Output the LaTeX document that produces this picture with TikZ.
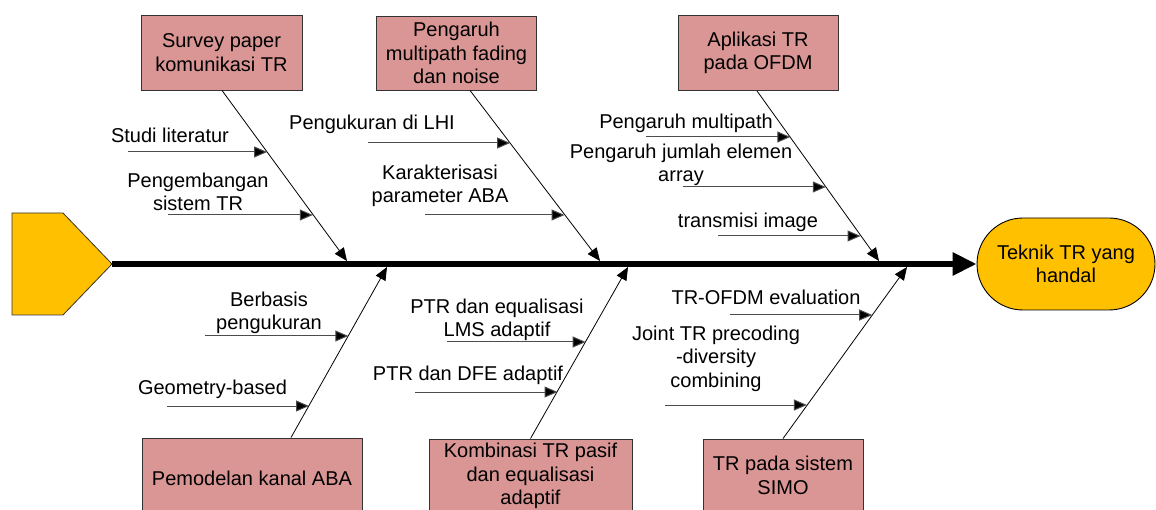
\documentclass[tikz,border=0pt]{standalone}
\usepackage{fontspec}
\setmainfont{Liberation Sans}
\usetikzlibrary{arrows.meta}
\definecolor{boxpink}{HTML}{D99694}
\definecolor{headyellow}{HTML}{FFC000}
\begin{document}
\begin{tikzpicture}[x=1pt,y=-1pt,
  every node/.style={font=\fontsize{20}{23.5}\selectfont},
  cause/.style={draw=black!80, line width=0.9pt, fill=boxpink, align=center, inner sep=2pt},
  goalnode/.style={draw=black, line width=0.9pt, fill=headyellow, align=center, rounded corners=46pt, minimum width=178pt, minimum height=92pt, inner sep=2pt},
  lbl/.style={align=center, inner sep=0pt, anchor=base},
  bone/.style={draw=black, line width=0.8pt, -{Triangle[length=13pt,width=11pt]}},
  sub/.style={draw=black!70, line width=1pt, -{Triangle[length=13pt,width=11pt, fill=black]}},
  spine/.style={draw=black, line width=6pt, -{Triangle[length=24pt,width=22pt]}}
]
\useasboundingbox (0,0) rectangle (1156,510);
\clip (0,0) rectangle (1156,510);

% head
\draw[fill=headyellow, draw=black!80, line width=0.8pt] (12,213) -- (63,213) -- (112,264) -- (63,315) -- (12,315) -- cycle;
\coordinate (head) at (112,264);

% goal
\node[goalnode] (goal) at (1066,264) {Teknik TR yang\\handal};

% spine
\draw[spine] (head) -- (goal.west);

% cause boxes
\node[cause, minimum width=161pt, minimum height=75pt] (b1) at (221.5,52.5) {Survey paper\\komunikasi TR};
\node[cause, minimum width=160pt, minimum height=74pt] (b2) at (456.5,53) {Pengaruh\\multipath fading\\dan noise};
\node[cause, minimum width=160pt, minimum height=75pt] (b3) at (758,53) {Aplikasi TR\\pada OFDM};
\node[cause, minimum width=220pt, minimum height=80pt] (b4) at (252,478) {Pemodelan kanal ABA};
\node[cause, minimum width=203pt, minimum height=74pt] (b5) at (530.5,476) {Kombinasi TR pasif\\dan equalisasi\\adaptif};
\node[cause, minimum width=160pt, minimum height=73pt] (b6) at (783,475.5) {TR pada sistem\\SIMO};

% bone ends on spine
\coordinate (j1) at (347,261);
\coordinate (j2) at (600,261);
\coordinate (j3) at (879,261);
\coordinate (j4) at (387,267);
\coordinate (j5) at (628,267);
\coordinate (j6) at (907,267);

\draw[bone] ([xshift=0.5pt]b1.south) -- (j1);
\draw[bone] ([xshift=13.5pt]b2.south) -- (j2);
\draw[bone] ([xshift=-1pt]b3.south) -- (j3);
\draw[bone] ([xshift=39pt]b4.north) -- (j4);
\draw[bone] (b5.north) -- (j5);
\draw[bone] (b6.north) -- (j6);

% sub-cause labels
\node[lbl] (t1a) at (170,143) {Studi literatur};
\node[lbl] (t1b) at (198,211) {Pengembangan\\sistem TR};
\node[lbl] (t2a) at (372,130) {Pengukuran di LHI};
\node[lbl] (t2b) at (440,203) {Karakterisasi\\parameter ABA};
\node[lbl] (t3a) at (686,129) {Pengaruh multipath};
\node[lbl] (t3b) at (681,182) {Pengaruh jumlah elemen\\array};
\node[lbl] (t3c) at (748,228) {transmisi image};
\node[lbl] (t4a) at (269,330) {Berbasis\\pengukuran};
\node[lbl] (t4b) at (212.5,394) {Geometry-based};
\node[lbl] (t5a) at (497,337) {PTR dan equalisasi\\LMS adaptif};
\node[lbl] (t5b) at (468,381) {PTR dan DFE adaptif};
\node[lbl] (t6a) at (766,305) {TR-OFDM evaluation};
\node[lbl] (t6b) at (716,387) {Joint TR precoding\\-diversity\\combining};

% sub-cause arrows
\coordinate (s1a) at (128,152);   \coordinate (e1a) at (267.1,152);
\coordinate (s1b) at (168,215);   \coordinate (e1b) at (312.8,215);
\coordinate (s2a) at (368,143);   \coordinate (e2a) at (510.1,143);
\coordinate (s2b) at (425,215);   \coordinate (e2b) at (564.5,215);
\coordinate (s3a) at (646,137);   \coordinate (e3a) at (790.3,137);
\coordinate (s3b) at (683,187);   \coordinate (e3b) at (825.8,187);
\coordinate (s3c) at (718,236);   \coordinate (e3c) at (860.6,236);
\coordinate (s4a) at (205,336);   \coordinate (e4a) at (348.3,336);
\coordinate (s4b) at (167,406);   \coordinate (e4b) at (309,406);
\coordinate (s5a) at (447,342);   \coordinate (e5a) at (585.7,342);
\coordinate (s5b) at (415,392);   \coordinate (e5b) at (557.5,392);
\coordinate (s6a) at (730,315);   \coordinate (e6a) at (872.2,315);
\coordinate (s6b) at (665,405);   \coordinate (e6b) at (806.9,405);

\foreach \k in {1a,1b,2a,2b,3a,3b,3c,4a,4b,5a,5b,6a,6b}
  \draw[sub] (s\k) -- (e\k);
\end{tikzpicture}
\end{document}
